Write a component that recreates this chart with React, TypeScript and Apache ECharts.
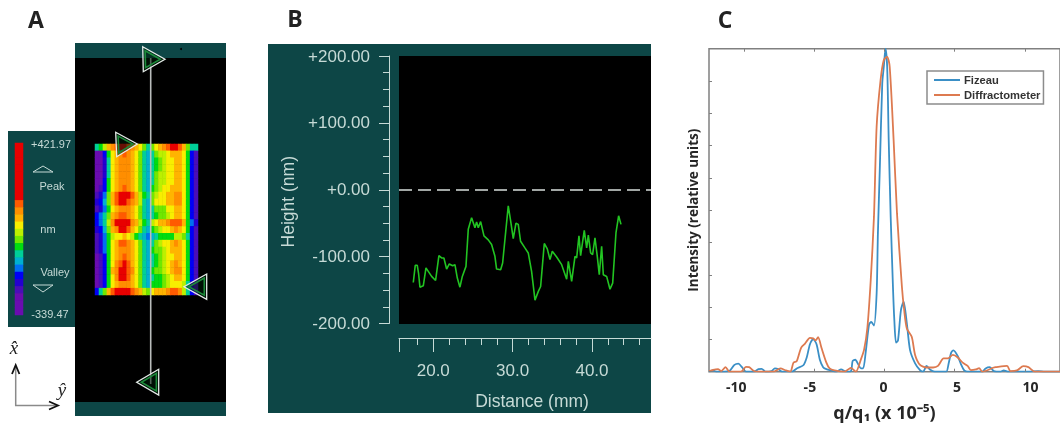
import React, { useEffect, useRef } from "react";
import * as echarts from "echarts";

// Panel A: surface map, colour-band level of each cell (rows top to bottom)
const surfaceRows: number[][] = [
  [6, 7, 9, 11, 12, 13, 14, 14, 13, 12, 11, 10, 8, 6, 8, 10, 11, 12, 13, 14, 14, 13, 11, 8, 6, 6],
  [0, 0, 3, 7, 10, 11, 12, 13, 12, 11, 10, 8, 6, 5, 6, 8, 9, 9, 10, 11, 11, 11, 10, 7, 3, 1],
  [0, 0, 2, 6, 10, 11, 12, 12, 12, 11, 10, 8, 6, 5, 6, 7, 8, 9, 10, 10, 11, 11, 10, 7, 3, 1],
  [0, 0, 2, 6, 10, 11, 12, 12, 12, 11, 10, 8, 6, 5, 6, 7, 8, 9, 10, 10, 11, 11, 10, 7, 3, 1],
  [0, 0, 2, 6, 10, 11, 12, 12, 12, 11, 10, 8, 6, 5, 6, 8, 9, 9, 10, 10, 11, 11, 10, 7, 3, 1],
  [0, 0, 3, 7, 10, 11, 12, 12, 12, 11, 10, 8, 6, 5, 6, 8, 9, 9, 10, 10, 11, 11, 10, 7, 3, 1],
  [0, 1, 3, 7, 10, 11, 12, 13, 12, 11, 10, 8, 6, 5, 7, 8, 9, 10, 10, 11, 11, 11, 10, 7, 3, 1],
  [1, 2, 4, 8, 11, 13, 14, 14, 14, 13, 11, 9, 7, 6, 8, 9, 10, 10, 11, 11, 12, 12, 10, 7, 3, 1],
  [2, 3, 5, 8, 11, 13, 14, 14, 13, 12, 11, 9, 6, 5, 8, 10, 10, 10, 11, 11, 12, 12, 10, 7, 3, 1],
  [1, 2, 4, 7, 10, 11, 12, 12, 12, 11, 10, 8, 6, 5, 6, 8, 8, 8, 10, 10, 11, 11, 10, 7, 3, 1],
  [3, 4, 6, 8, 11, 12, 13, 13, 12, 11, 10, 8, 6, 5, 6, 7, 8, 8, 9, 10, 11, 11, 10, 7, 3, 1],
  [3, 4, 6, 9, 12, 14, 14, 14, 14, 12, 11, 9, 7, 6, 9, 10, 11, 11, 12, 13, 13, 13, 11, 7, 4, 2],
  [2, 3, 5, 8, 11, 12, 14, 14, 13, 11, 10, 8, 6, 5, 7, 8, 9, 10, 10, 11, 12, 11, 10, 7, 3, 1],
  [1, 2, 4, 7, 9, 10, 10, 11, 10, 9, 7, 6, 5, 4, 5, 6, 7, 7, 7, 7, 9, 9, 8, 6, 3, 1],
  [1, 2, 4, 7, 10, 11, 13, 13, 12, 11, 10, 8, 6, 5, 6, 8, 9, 10, 10, 11, 12, 11, 10, 7, 3, 1],
  [1, 2, 4, 7, 10, 11, 12, 12, 12, 11, 10, 8, 6, 5, 7, 8, 8, 9, 10, 11, 11, 11, 10, 7, 3, 1],
  [0, 1, 3, 7, 10, 11, 12, 13, 12, 11, 10, 8, 6, 5, 6, 7, 8, 9, 10, 10, 11, 11, 10, 7, 3, 1],
  [0, 1, 3, 7, 10, 12, 13, 14, 13, 11, 10, 8, 6, 5, 6, 7, 8, 9, 10, 11, 12, 11, 10, 7, 3, 1],
  [0, 1, 3, 7, 11, 12, 14, 14, 13, 12, 10, 8, 6, 5, 7, 8, 8, 9, 10, 11, 12, 12, 10, 7, 3, 1],
  [0, 1, 3, 7, 10, 12, 14, 14, 13, 11, 10, 8, 6, 5, 6, 7, 7, 8, 9, 10, 11, 11, 10, 7, 3, 1],
  [0, 1, 3, 7, 10, 11, 12, 12, 12, 11, 10, 8, 6, 5, 7, 7, 7, 8, 9, 10, 10, 10, 9, 6, 2, 1],
  [3, 6, 8, 11, 13, 14, 14, 14, 14, 13, 12, 11, 9, 8, 10, 11, 11, 11, 12, 13, 13, 12, 9, 6, 3, 1],
];
const colorbarLevels = [14, 14, 14, 14, 14, 14, 14, 14, 13, 12, 11, 10, 9, 8, 7, 6, 5, 4, 3, 2, 1, 0, 0, 0];
const bandColors = [
  "#6a0cb0", "#4a0db8", "#2400d0", "#0000f5", "#0070f0", "#00b0d0", "#00d098", "#00dc10",
  "#70e800", "#bcf000", "#f8ee00", "#ffb400", "#ff8e00", "#ff5a00", "#e80000",
];

// Panel B: height profile
const distanceMm = [
  17.48, 17.73, 17.98, 18.15, 18.32, 18.74, 19.08, 19.37, 19.79, 20.29, 20.71, 21.05, 21.34, 21.68, 22.02, 22.44, 22.73,
  23.03, 23.36, 23.66, 24.12, 24.41, 24.83, 25.25, 25.46, 25.67, 25.97, 26.39, 26.93, 27.35, 27.77, 27.98, 28.49, 28.74,
  29.45, 29.75, 30.08, 30.42, 30.71, 31.0, 31.55, 31.97, 32.39, 32.82, 33.24, 33.53, 33.99, 34.37, 34.71, 35.0, 35.55,
  36.18, 36.81, 37.02, 37.44, 37.86, 38.07, 38.36, 38.57, 39.03, 39.33, 39.54, 39.83, 40.08, 40.38, 40.67, 40.92, 41.22,
  41.43, 41.85, 42.27, 42.61, 43.03, 43.36, 43.66,
];
const heightNm = [
  -138.7, -113, -113, -125.6, -145.7, -143.7, -117, -122, -129.6, -135.7, -98.5, -102, -102, -118.6, -111, -113.6, -112,
  -132, -145.7, -129.6, -114.6, -59, -41.7, -56.8, -48, -56.8, -47.7, -69, -75, -82, -99.5, -118.6, -119.6, -109.5,
  -24, -46.7, -73, -50, -51.8, -77, -87, -94.5, -122, -165, -152, -144.7, -80.4, -88.4, -104.5, -92, -100.5,
  -112, -133.7, -107, -137, -99.5, -102, -69, -98.5, -60.8, -87, -68, -94.5, -97, -72, -99.5, -127, -84.4,
  -127, -129.6, -148.7, -139.7, -64, -39, -51.8,
];
const distanceMajorTicks = [15.68, 20, 30, 40];
const distanceMinorTicks = [18, 22, 24, 26, 28, 32, 34, 36, 38, 42, 44, 46];

// Panel C: intensity curves
const fizeauQ = [
  -12.49, -12.21, -11.98, -11.39, -11.04, -10.69, -10.41, -10.15, -9.87, -9.29, -8.98, -8.75, -8.47, -8.05, -7.81, -7.53, -7.3,
  -6.6, -6.25, -5.78, -5.54, -5.31, -5.08, -4.84, -4.61, -4.37, -4.14, -3.79, -3.44, -3.09, -2.74, -2.39, -2.27, -2.08, -1.87,
  -1.68, -1.52, -1.33, -1.1, -0.94, -0.75, -0.56, -0.47, -0.33, -0.16, -0.05, 0.07, 0.19, 0.3, 0.44, 0.61, 0.7, 0.82, 0.96,
  1.17, 1.36, 1.59, 1.82, 2.18, 2.53, 2.76, 2.99, 3.23, 3.58, 4.05, 4.4, 4.58, 4.75, 4.91, 5.22, 5.45, 5.68, 5.92, 6.97, 7.2,
  7.49, 7.79, 8.26, 8.49, 8.84, 10.25, 10.95, 11.42, 12.5,
];
const fizeauI = [
  0, 0.004, 0, 0, 0.002, 0.021, 0.025, 0.014, 0, 0, 0.008, 0.009, 0, 0.002, 0.01, 0.007, 0,
  0, 0.01, 0.02, 0.044, 0.085, 0.101, 0.085, 0.038, 0.014, 0.008, 0.004, 0, 0.007, 0, 0.002, 0.033, 0.037, 0.023,
  0.01, 0.01, 0.064, 0.146, 0.154, 0.143, 0.243, 0.428, 0.635, 0.893, 0.944, 1.0, 0.944, 0.717, 0.48, 0.253, 0.16, 0.09, 0.096,
  0.191, 0.217, 0.15, 0.067, 0.026, 0.005, 0, 0.018, 0.007, 0, 0, 0, 0.028, 0.059, 0.066, 0.048, 0.023, 0.004, 0, 0, 0.01,
  0.014, 0.002, 0, 0.004, 0, 0, 0.002, 0, 0,
];
const diffractometerQ = [
  -12.49, -12.21, -11.86, -11.63, -11.32, -11.04, -10.22, -9.87, -9.64, -9.29, -8.94, -7.88, -7.42, -7.02, -6.71, -6.48, -6.25,
  -5.94, -5.66, -5.31, -5.08, -4.91, -4.73, -4.49, -4.14, -3.91, -3.56, -2.85, -2.39, -2.04, -1.68, -1.45, -1.22, -0.98, -0.75,
  -0.56, -0.28, -0.05, 0.19, 0.37, 0.65, 0.89, 1.24, 1.4, 1.59, 1.94, 2.18, 2.53, 2.99, 3.46, 3.81, 4.21, 4.51, 4.87, 5.22,
  5.57, 5.92, 6.15, 6.5, 6.74, 6.97, 7.79, 7.91, 8.73, 8.96, 9.43, 9.89, 10.25, 10.71, 12.5,
];
const diffractometerI = [
  0.002, 0.006, 0.008, 0.002, 0.014, 0, 0, 0.015, 0.014, 0.002, 0, 0, 0.01, 0.004, 0, 0.028, 0.033,
  0.074, 0.087, 0.105, 0.103, 0.097, 0.107, 0.074, 0.028, 0.01, 0.004, 0, 0.012, 0, 0.038, 0.069, 0.136, 0.284, 0.48,
  0.759, 0.903, 0.965, 0.975, 0.944, 0.717, 0.49, 0.263, 0.191, 0.134, 0.108, 0.052, 0.021, 0.013, 0.013, 0.018, 0.041, 0.041, 0.052, 0.044,
  0.028, 0.018, 0.005, 0.007, 0.011, 0, 0.013, 0.014, 0.018, 0.002, 0.004, 0.017, 0.014, 0, 0,
];
const qTicks = [-10, -5, 0, 5, 10];

const TEAL = "#0d4646";
const SCREEN_TEXT = "#c6dad6";
const AXIS_GREY = "#808080";

const rect = (x: number, y: number, width: number, height: number, fill: string) => ({
  type: "rect", z: 0, silent: true, shape: { x, y, width, height }, style: { fill },
});
const label = (text: string, x: number, y: number, font: string, fill: string, textAlign = "center") => ({
  type: "text", z: 12, silent: true, x, y,
  style: { text, font, fill, textAlign, textVerticalAlign: "middle" },
});
const marker = (pts: number[][]) => {
  const cx = (pts[0][0] + pts[1][0] + pts[2][0]) / 3;
  const cy = (pts[0][1] + pts[1][1] + pts[2][1]) / 3;
  const inner = pts.map(([x, y]) => [cx + (x - cx) * 0.68, cy + (y - cy) * 0.68]);
  return [
    { type: "polygon", z: 10, silent: true, shape: { points: pts }, style: { fill: "rgba(0,30,10,0.55)", stroke: "#e4ece8", lineWidth: 1.3 } },
    { type: "polygon", z: 11, silent: true, shape: { points: inner }, style: { fill: "rgba(0,0,0,0)", stroke: "#1c8a3a", lineWidth: 1.6 } },
  ];
};

export default function App() {
  const ref = useRef<HTMLDivElement>(null);
  useEffect(() => {
    const chart = echarts.init(ref.current!, undefined, { renderer: "svg" });
    const nCols = surfaceRows[0].length;
    const surfaceData: number[][] = [];
    surfaceRows.forEach((row, r) => row.forEach((v, c) => surfaceData.push([c, r, v])));
    const barData = colorbarLevels.map((v, r) => [0, r, v]);
    const sans = "Liberation Sans";

    chart.setOption({
      animation: false,
      backgroundColor: "#ffffff",
      visualMap: {
        show: false, type: "continuous", min: 0, max: 14, seriesIndex: [0, 1],
        inRange: { color: bandColors },
      },
      legend: {
        show: true,
        left: 927, top: 71,
        orient: "vertical", padding: [3, 3, 3, 7], itemGap: 3,
        icon: "rect", itemWidth: 26, itemHeight: 2,
        borderColor: "#8c8c8c", borderWidth: 1.5, backgroundColor: "#ffffff",
        textStyle: { fontFamily: "Liberation Sans", fontWeight: "bold", fontSize: 11.2, lineHeight: 12, color: "#333", padding: [0, 0, 0, -1] },
        data: ["Fizeau", "Diffractometer"],
      },
      grid: [
        { left: 95, top: 144, width: 103, height: 151, containLabel: false },
        { left: 15, top: 143, width: 8, height: 172 },
        { left: 399, top: 56, width: 252, height: 267.5 },
        { left: 709, top: 48.7, width: 356.4, height: 323, show: true, borderColor: AXIS_GREY, borderWidth: 1.5, backgroundColor: "#fff" },
      ],
      xAxis: [
        { type: "category", gridIndex: 0, show: false, data: Array.from({ length: nCols }, (_, i) => i) },
        { type: "category", gridIndex: 1, show: false, data: [0] },
        {
          type: "value", gridIndex: 2, min: 15.68, max: 47.44, position: "bottom", offset: 14.5, z: 5,
          name: "Distance (mm)", nameLocation: "middle", nameGap: 54,
          nameTextStyle: { color: SCREEN_TEXT, fontFamily: sans, fontSize: 17.5, padding: [0, 0, 0, 14] },
          axisLine: { show: true, onZero: false, lineStyle: { color: SCREEN_TEXT, width: 1 } },
          axisTick: { show: true, length: 14, customValues: distanceMajorTicks, lineStyle: { color: SCREEN_TEXT, width: 1 } },
          axisLabel: { show: true, customValues: [20, 30, 40], margin: 24, color: SCREEN_TEXT, fontFamily: sans, fontSize: 17, formatter: (v: number) => v.toFixed(1) },
          splitLine: { show: false },
        },
        {
          type: "value", gridIndex: 2, min: 15.68, max: 47.44, position: "bottom", offset: 14.5, z: 5,
          axisLine: { show: false, onZero: false },
          axisTick: { show: true, length: 7, customValues: distanceMinorTicks, lineStyle: { color: SCREEN_TEXT, width: 1 } },
          axisLabel: { show: false },
          splitLine: { show: false },
        },
        {
          type: "value", gridIndex: 3, min: -12.5, max: 12.5, position: "bottom", z: 5,
          axisLine: { show: false, onZero: false },
          axisTick: { show: true, inside: true, length: 3, customValues: qTicks, lineStyle: { color: AXIS_GREY } },
          axisLabel: { show: false },
          splitLine: { show: false },
        },
        {
          type: "value", gridIndex: 3, min: -12.5, max: 12.5, position: "top", z: 5,
          axisLine: { show: false, onZero: false },
          axisTick: { show: true, inside: true, length: 3, customValues: qTicks, lineStyle: { color: AXIS_GREY } },
          axisLabel: { show: false },
          splitLine: { show: false },
        },
        {
          type: "value", gridIndex: 3, min: -11.86, max: 12.01, position: "bottom", z: 5, offset: 0,
          name: "q/q₁ (x 10⁻⁵)", nameLocation: "middle", nameGap: 31,
          nameTextStyle: { color: "#262626", fontFamily: "Open Sans", fontWeight: "bold", fontSize: 18 },
          axisLine: { show: false, onZero: false },
          axisTick: { show: false },
          axisLabel: { show: true, customValues: qTicks, margin: 8, color: "#262626", fontFamily: "Open Sans", fontWeight: "bold", fontSize: 14 },
          splitLine: { show: false },
        },
      ],
      yAxis: [
        { type: "category", gridIndex: 0, show: false, inverse: true, data: surfaceRows.map((_, i) => i) },
        { type: "category", gridIndex: 1, show: false, inverse: true, data: colorbarLevels.map((_, i) => i) },
        {
          type: "value", gridIndex: 2, min: -200, max: 200, interval: 100, position: "left", offset: 10, z: 5,
          name: "Height (nm)", nameLocation: "middle", nameGap: 92, nameRotate: 90,
          nameTextStyle: { color: SCREEN_TEXT, fontFamily: sans, fontSize: 17.5, padding: [0, 0, 0, -24] },
          axisLine: { show: true, onZero: false, lineStyle: { color: SCREEN_TEXT, width: 1 } },
          axisTick: { show: true, length: 10, lineStyle: { color: SCREEN_TEXT, width: 1 } },
          minorTick: { show: true, splitNumber: 4, length: 6, lineStyle: { color: SCREEN_TEXT, width: 1 } },
          axisLabel: {
            show: true, margin: 19, color: SCREEN_TEXT, fontFamily: sans, fontSize: 17,
            formatter: (v: number) => (v >= 0 ? "+" : "") + v.toFixed(2),
          },
          splitLine: { show: false },
        },
        {
          type: "value", gridIndex: 3, min: 0, max: 1, interval: 0.1, position: "left", z: 5,
          name: "Intensity (relative units)", nameLocation: "middle", nameGap: 9, nameRotate: 90,
          nameTextStyle: { color: "#262626", fontFamily: "Open Sans", fontWeight: "bold", fontSize: 13.5 },
          axisLine: { show: false, onZero: false },
          axisTick: { show: true, inside: true, length: 3, lineStyle: { color: AXIS_GREY } },
          axisLabel: { show: false },
          splitLine: { show: false },
        },
      ],
      series: [
        { type: "heatmap", xAxisIndex: 0, yAxisIndex: 0, data: surfaceData, silent: true, itemStyle: { borderWidth: 0 } },
        { type: "heatmap", xAxisIndex: 1, yAxisIndex: 1, data: barData, silent: true, itemStyle: { borderWidth: 0 } },
        {
          type: "line", name: "Profile", xAxisIndex: 2, yAxisIndex: 2, symbol: "none", silent: true,
          data: distanceMm.map((d, i) => [d, heightNm[i]]),
          lineStyle: { color: "#22c422", width: 1.6 },
          markLine: {
            silent: true, symbol: "none", label: { show: false },
            lineStyle: { color: "#d8dedc", type: [13, 6], width: 1.5 },
            data: [{ yAxis: 0 }],
          },
        },
        {
          type: "line", name: "Fizeau", xAxisIndex: 4, yAxisIndex: 3, symbol: "none", silent: true, smooth: 0.25,
          data: fizeauQ.map((q, i) => [q, fizeauI[i]]),
          itemStyle: { color: "#3a8fc6" }, lineStyle: { color: "#3a8fc6", width: 1.8 },
        },
        {
          type: "line", name: "Diffractometer", xAxisIndex: 4, yAxisIndex: 3, symbol: "none", silent: true, smooth: 0.25,
          data: diffractometerQ.map((q, i) => [q, diffractometerI[i]]),
          itemStyle: { color: "#dd7a50" }, lineStyle: { color: "#dd7a50", width: 1.8 },
        },
      ],
      graphic: {
        elements: [
          rect(75, 43, 151, 373, TEAL),
          rect(75, 58, 151, 344, "#000000"),
          rect(8, 131, 67, 196, TEAL),
          rect(268, 44, 383, 369, TEAL),
          rect(399, 56, 252, 268, "#000000"),
          { type: "line", z: 9, silent: true, shape: { x1: 150.7, y1: 58, x2: 150.7, y2: 384 }, style: { stroke: "#b9bdbc", lineWidth: 1.6 } },
          ...marker([[142.7, 46.7], [165, 59.3], [143.3, 71.7]]),
          ...marker([[115.7, 132.3], [137.3, 144], [116.7, 156.7]]),
          ...marker([[206.7, 274], [184, 286.7], [206.7, 299.3]]),
          ...marker([[158.7, 369.3], [136.7, 382.3], [158.7, 395]]),
          { type: "circle", z: 10, silent: true, shape: { cx: 181, cy: 49, r: 1 }, style: { fill: "#000" } },
          label("+421.97", 51, 144, "11px Liberation Sans", SCREEN_TEXT),
          { type: "polygon", z: 12, silent: true, shape: { points: [[33, 172], [43, 166], [53, 172]] }, style: { fill: "none", stroke: SCREEN_TEXT, lineWidth: 1 } },
          label("Peak", 52, 186, "11px Liberation Sans", SCREEN_TEXT),
          label("nm", 48, 229, "11px Liberation Sans", SCREEN_TEXT),
          label("Valley", 55, 272, "11px Liberation Sans", SCREEN_TEXT),
          { type: "polygon", z: 12, silent: true, shape: { points: [[33, 285], [43, 292], [53, 285]] }, style: { fill: "none", stroke: SCREEN_TEXT, lineWidth: 1 } },
          label("-339.47", 50, 314, "11px Liberation Sans", SCREEN_TEXT),
          { type: "polyline", z: 12, silent: true, shape: { points: [[15.7, 367], [15.7, 405.5], [57, 405.5]] }, style: { fill: "none", stroke: "#8a8a8a", lineWidth: 1.5 } },
          { type: "polyline", z: 13, silent: true, shape: { points: [[12, 374], [15.7, 365], [19.4, 374]] }, style: { fill: "none", stroke: "#111", lineWidth: 1.8 } },
          { type: "polyline", z: 13, silent: true, shape: { points: [[49, 401.5], [58, 405.5], [49, 409.5]] }, style: { fill: "none", stroke: "#111", lineWidth: 1.8 } },
          label("x̂", 14, 347, "italic 19px Liberation Serif", "#222"),
          label("ŷ", 62, 389, "italic 19px Liberation Serif", "#222"),
          label("A", 36, 19, "bold 23px Open Sans", "#222"),
          label("B", 295, 18, "bold 23px Open Sans", "#222"),
          label("C", 725, 19, "bold 23px Open Sans", "#222"),
        ],
      },
    });
    return () => chart.dispose();
  }, []);
  return <div ref={ref} style={{ position: "absolute", left: 0, top: 0, width: 1060, height: 426, filter: "blur(0.6px)" }} />;
}
